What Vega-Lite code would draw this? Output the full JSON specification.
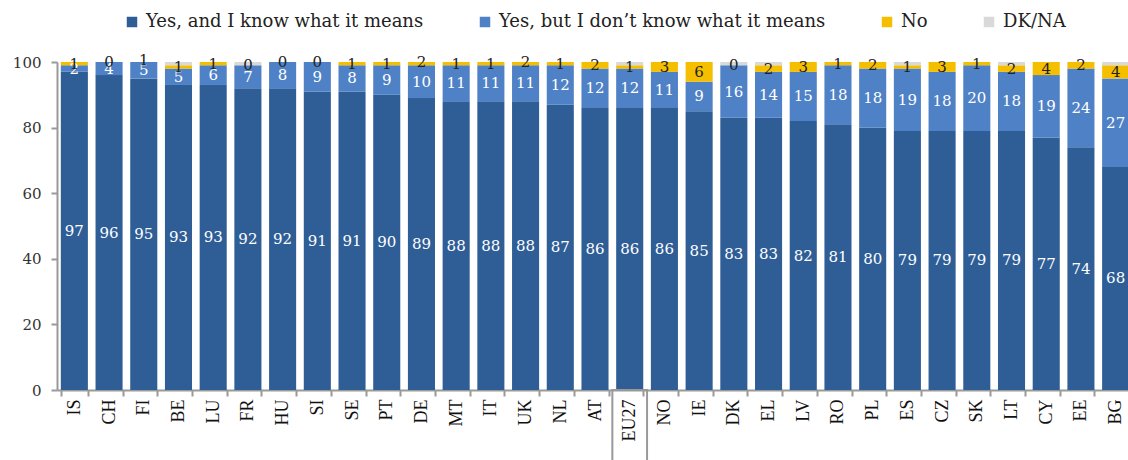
{
  "$schema": "https://vega.github.io/schema/vega-lite/v6.json",
  "width": 1076,
  "height": 328,
  "padding": {"left": 57, "top": 62, "right": 0, "bottom": 70},
  "autosize": {"type": "none"},
  "background": "white",
  "config": {"view": {"stroke": null}},
  "datasets": {
    "rows": [
      {"country": "IS", "know": 97, "dontknow": 2, "no": 1, "dkna": 0},
      {"country": "CH", "know": 96, "dontknow": 4, "no": 0, "dkna": 0},
      {"country": "FI", "know": 95, "dontknow": 5, "no": 1, "dkna": 0},
      {"country": "BE", "know": 93, "dontknow": 5, "no": 1, "dkna": 1},
      {"country": "LU", "know": 93, "dontknow": 6, "no": 1, "dkna": 0},
      {"country": "FR", "know": 92, "dontknow": 7, "no": 0, "dkna": 1},
      {"country": "HU", "know": 92, "dontknow": 8, "no": 0, "dkna": 0},
      {"country": "SI", "know": 91, "dontknow": 9, "no": 0, "dkna": 0},
      {"country": "SE", "know": 91, "dontknow": 8, "no": 1, "dkna": 0},
      {"country": "PT", "know": 90, "dontknow": 9, "no": 1, "dkna": 0},
      {"country": "DE", "know": 89, "dontknow": 10, "no": 2, "dkna": 0},
      {"country": "MT", "know": 88, "dontknow": 11, "no": 1, "dkna": 0},
      {"country": "IT", "know": 88, "dontknow": 11, "no": 1, "dkna": 0},
      {"country": "UK", "know": 88, "dontknow": 11, "no": 2, "dkna": 0},
      {"country": "NL", "know": 87, "dontknow": 12, "no": 1, "dkna": 0},
      {"country": "AT", "know": 86, "dontknow": 12, "no": 2, "dkna": 0},
      {"country": "EU27", "know": 86, "dontknow": 12, "no": 1, "dkna": 1},
      {"country": "NO", "know": 86, "dontknow": 11, "no": 3, "dkna": 0},
      {"country": "IE", "know": 85, "dontknow": 9, "no": 6, "dkna": 0},
      {"country": "DK", "know": 83, "dontknow": 16, "no": 0, "dkna": 1},
      {"country": "EL", "know": 83, "dontknow": 14, "no": 2, "dkna": 1},
      {"country": "LV", "know": 82, "dontknow": 15, "no": 3, "dkna": 0},
      {"country": "RO", "know": 81, "dontknow": 18, "no": 1, "dkna": 0},
      {"country": "PL", "know": 80, "dontknow": 18, "no": 2, "dkna": 0},
      {"country": "ES", "know": 79, "dontknow": 19, "no": 1, "dkna": 1},
      {"country": "CZ", "know": 79, "dontknow": 18, "no": 3, "dkna": 0},
      {"country": "SK", "know": 79, "dontknow": 20, "no": 1, "dkna": 0},
      {"country": "LT", "know": 79, "dontknow": 18, "no": 2, "dkna": 1},
      {"country": "CY", "know": 77, "dontknow": 19, "no": 4, "dkna": 0},
      {"country": "EE", "know": 74, "dontknow": 24, "no": 2, "dkna": 0},
      {"country": "BG", "know": 68, "dontknow": 27, "no": 4, "dkna": 1}
    ],
    "cats": [
      {"key": "know", "category": "Yes, and I know what it means", "rank": 1},
      {"key": "dontknow", "category": "Yes, but I don’t know what it means", "rank": 2},
      {"key": "no", "category": "No", "rank": 3},
      {"key": "dkna", "category": "DK/NA", "rank": 4}
    ],
    "box": [{"country": "EU27"}]
  },
  "layer": [
    {
      "data": {"name": "rows"},
      "transform": [
        {"fold": ["know", "dontknow", "no", "dkna"], "as": ["key", "value"]},
        {"lookup": "key", "from": {"data": {"name": "cats"}, "key": "key", "fields": ["category", "rank"]}}
      ],
      "mark": {"type": "bar", "clip": true},
      "encoding": {
        "x": {
          "field": "country", "type": "nominal", "sort": null,
          "scale": {"paddingInner": 0.22, "paddingOuter": 0.11},
          "axis": {
            "title": null, "labelAngle": -90, "labelFont": "Liberation Serif", "labelFontSize": 18,
            "labelColor": "#111", "domainColor": "#999", "domainWidth": 2, "tickColor": "#999",
            "tickWidth": 2, "tickSize": 6, "tickBand": "extent", "labelPadding": 3
          }
        },
        "y": {
          "field": "value", "type": "quantitative", "stack": "zero",
          "scale": {"domain": [0, 100], "nice": false},
          "axis": {
            "title": null, "values": [0, 20, 40, 60, 80, 100], "grid": false,
            "labelFont": "DejaVu Serif", "labelFontSize": 15, "labelColor": "#333",
            "domainColor": "#999", "domainWidth": 2, "tickColor": "#999", "tickWidth": 2,
            "tickSize": 6, "labelPadding": 10
          }
        },
        "color": {
          "field": "category", "type": "nominal",
          "scale": {
            "domain": ["Yes, and I know what it means", "Yes, but I don’t know what it means", "No", "DK/NA"],
            "range": ["#2F5E97", "#4F81C6", "#F5BF00", "#D9D9D9"]
          },
          "legend": {
            "title": null, "orient": "none", "direction": "horizontal",
            "legendX": 66, "legendY": -49,
            "symbolType": "square", "symbolSize": 110, "symbolStrokeWidth": 0,
            "labelFont": "DejaVu Serif", "labelFontSize": 18, "labelColor": "#222",
            "labelLimit": 0, "columnPadding": 52, "labelOffset": 5
          }
        },
        "order": {"field": "rank", "type": "quantitative"}
      }
    },
    {
      "data": {"name": "rows"},
      "transform": [
        {"fold": ["know", "dontknow", "no", "dkna"], "as": ["key", "value"]},
        {"lookup": "key", "from": {"data": {"name": "cats"}, "key": "key", "fields": ["category", "rank"]}},
        {"filter": "datum.key !== 'dkna'"}
      ],
      "mark": {"type": "text", "font": "DejaVu Serif", "fontSize": 15, "baseline": "middle"},
      "encoding": {
        "x": {"field": "country", "type": "nominal", "sort": null},
        "y": {"field": "value", "type": "quantitative", "stack": "zero", "bandPosition": 0.5},
        "order": {"field": "rank", "type": "quantitative"},
        "text": {"field": "value", "type": "quantitative"},
        "color": {
          "condition": {"test": "datum.key === 'no'", "value": "#222"},
          "value": "white"
        }
      }
    },
    {
      "data": {"name": "box"},
      "mark": {"type": "bar", "fill": null, "fillOpacity": 0, "stroke": "#999", "strokeWidth": 2, "clip": false, "width": {"band": 1.282}},
      "encoding": {
        "x": {"field": "country", "type": "nominal", "sort": null},
        "y": {"datum": 0},
        "y2": {"datum": -25}
      }
    }
  ]
}
